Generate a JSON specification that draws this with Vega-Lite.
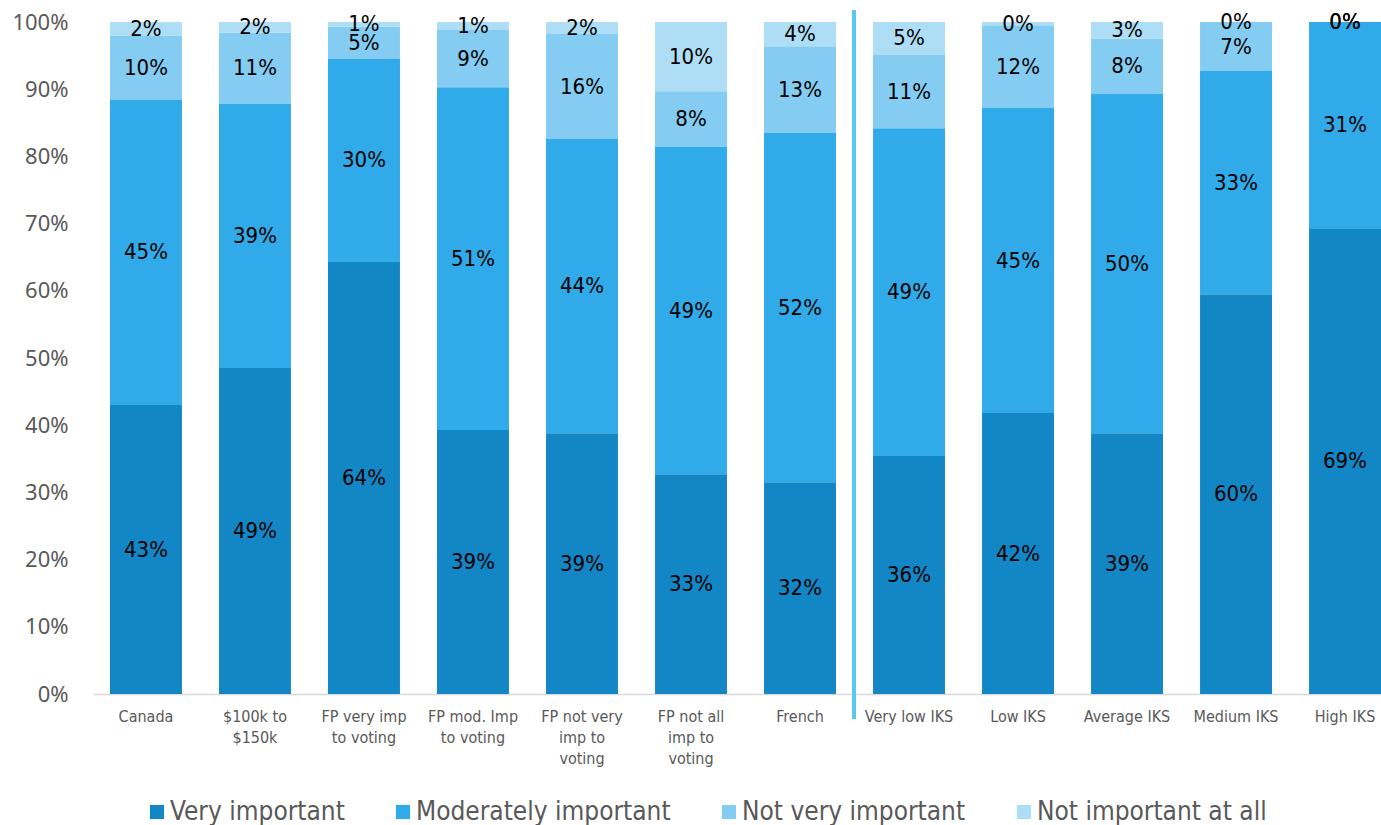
{
  "$schema": "https://vega.github.io/schema/vega-lite/v6.json",
  "width": 1288,
  "height": 672,
  "autosize": {"type": "none"},
  "padding": {"left": 93, "top": 22, "right": 0, "bottom": 131},
  "background": "white",
  "config": {"view": {"stroke": null}},
  "data": {
    "values": [
      {"g": "Canada", "seg": "Very important", "k": 1, "pct": 43.0, "label": "43%"},
      {"g": "Canada", "seg": "Moderately important", "k": 2, "pct": 45.4, "label": "45%"},
      {"g": "Canada", "seg": "Not very important", "k": 3, "pct": 9.6, "label": "10%"},
      {"g": "Canada", "seg": "Not important at all", "k": 4, "pct": 2.0, "label": "2%"},
      {"g": "$100k to $150k", "seg": "Very important", "k": 1, "pct": 48.5, "label": "49%"},
      {"g": "$100k to $150k", "seg": "Moderately important", "k": 2, "pct": 39.3, "label": "39%"},
      {"g": "$100k to $150k", "seg": "Not very important", "k": 3, "pct": 10.6, "label": "11%"},
      {"g": "$100k to $150k", "seg": "Not important at all", "k": 4, "pct": 1.6, "label": "2%"},
      {"g": "FP very imp to voting", "seg": "Very important", "k": 1, "pct": 64.3, "label": "64%"},
      {"g": "FP very imp to voting", "seg": "Moderately important", "k": 2, "pct": 30.2, "label": "30%"},
      {"g": "FP very imp to voting", "seg": "Not very important", "k": 3, "pct": 4.8, "label": "5%"},
      {"g": "FP very imp to voting", "seg": "Not important at all", "k": 4, "pct": 0.7, "label": "1%"},
      {"g": "FP mod. Imp to voting", "seg": "Very important", "k": 1, "pct": 39.3, "label": "39%"},
      {"g": "FP mod. Imp to voting", "seg": "Moderately important", "k": 2, "pct": 51.0, "label": "51%"},
      {"g": "FP mod. Imp to voting", "seg": "Not very important", "k": 3, "pct": 8.5, "label": "9%"},
      {"g": "FP mod. Imp to voting", "seg": "Not important at all", "k": 4, "pct": 1.2, "label": "1%"},
      {"g": "FP not very imp to voting", "seg": "Very important", "k": 1, "pct": 38.8, "label": "39%"},
      {"g": "FP not very imp to voting", "seg": "Moderately important", "k": 2, "pct": 43.8, "label": "44%"},
      {"g": "FP not very imp to voting", "seg": "Not very important", "k": 3, "pct": 15.6, "label": "16%"},
      {"g": "FP not very imp to voting", "seg": "Not important at all", "k": 4, "pct": 1.8, "label": "2%"},
      {"g": "FP not all imp to voting", "seg": "Very important", "k": 1, "pct": 32.7, "label": "33%"},
      {"g": "FP not all imp to voting", "seg": "Moderately important", "k": 2, "pct": 48.7, "label": "49%"},
      {"g": "FP not all imp to voting", "seg": "Not very important", "k": 3, "pct": 8.3, "label": "8%"},
      {"g": "FP not all imp to voting", "seg": "Not important at all", "k": 4, "pct": 10.3, "label": "10%"},
      {"g": "French", "seg": "Very important", "k": 1, "pct": 31.5, "label": "32%"},
      {"g": "French", "seg": "Moderately important", "k": 2, "pct": 52.0, "label": "52%"},
      {"g": "French", "seg": "Not very important", "k": 3, "pct": 12.9, "label": "13%"},
      {"g": "French", "seg": "Not important at all", "k": 4, "pct": 3.6, "label": "4%"},
      {"g": "Very low IKS", "seg": "Very important", "k": 1, "pct": 35.4, "label": "36%"},
      {"g": "Very low IKS", "seg": "Moderately important", "k": 2, "pct": 48.8, "label": "49%"},
      {"g": "Very low IKS", "seg": "Not very important", "k": 3, "pct": 10.9, "label": "11%"},
      {"g": "Very low IKS", "seg": "Not important at all", "k": 4, "pct": 4.9, "label": "5%"},
      {"g": "Low IKS", "seg": "Very important", "k": 1, "pct": 41.8, "label": "42%"},
      {"g": "Low IKS", "seg": "Moderately important", "k": 2, "pct": 45.4, "label": "45%"},
      {"g": "Low IKS", "seg": "Not very important", "k": 3, "pct": 12.3, "label": "12%"},
      {"g": "Low IKS", "seg": "Not important at all", "k": 4, "pct": 0.5, "label": "0%"},
      {"g": "Average IKS", "seg": "Very important", "k": 1, "pct": 38.8, "label": "39%"},
      {"g": "Average IKS", "seg": "Moderately important", "k": 2, "pct": 50.5, "label": "50%"},
      {"g": "Average IKS", "seg": "Not very important", "k": 3, "pct": 8.2, "label": "8%"},
      {"g": "Average IKS", "seg": "Not important at all", "k": 4, "pct": 2.5, "label": "3%"},
      {"g": "Medium IKS", "seg": "Very important", "k": 1, "pct": 59.5, "label": "60%"},
      {"g": "Medium IKS", "seg": "Moderately important", "k": 2, "pct": 33.2, "label": "33%"},
      {"g": "Medium IKS", "seg": "Not very important", "k": 3, "pct": 7.3, "label": "7%"},
      {"g": "Medium IKS", "seg": "Not important at all", "k": 4, "pct": 0.0, "label": "0%"},
      {"g": "High IKS", "seg": "Very important", "k": 1, "pct": 69.2, "label": "69%"},
      {"g": "High IKS", "seg": "Moderately important", "k": 2, "pct": 30.8, "label": "31%"},
      {"g": "High IKS", "seg": "Not very important", "k": 3, "pct": 0.0, "label": "0%"},
      {"g": "High IKS", "seg": "Not important at all", "k": 4, "pct": 0.0, "label": "0%"}
    ]
  },
  "encoding": {
    "x": {
      "field": "g",
      "type": "nominal",
      "scale": {
        "domain": ["Canada", "$100k to $150k", "FP very imp to voting", "FP mod. Imp to voting", "FP not very imp to voting", "FP not all imp to voting", "French", "Very low IKS", "Low IKS", "Average IKS", "Medium IKS", "High IKS"],
        "paddingInner": 0.34,
        "paddingOuter": 0.078,
        "align": 1
      },
      "axis": {
        "title": null,
        "labelAngle": 0,
        "ticks": false,
        "domainColor": "#d9d9d9",
        "domainWidth": 1.5,
        "labelFont": "DejaVu Sans Condensed",
        "labelFontSize": 16,
        "labelColor": "#595959",
        "labelPadding": 14,
        "labelBaseline": "top",
        "labelLineHeight": 21,
        "labelLimit": 200,
        "labelExpr": "({'$100k to $150k': ['$100k to', '$150k'], 'FP very imp to voting': ['FP very imp', 'to voting'], 'FP mod. Imp to voting': ['FP mod. Imp', 'to voting'], 'FP not very imp to voting': ['FP not very', 'imp to', 'voting'], 'FP not all imp to voting': ['FP not all', 'imp to', 'voting']})[datum.label] || datum.label"
      }
    }
  },
  "layer": [
    {
      "mark": {"type": "bar"},
      "encoding": {
        "y": {
          "field": "pct",
          "type": "quantitative",
          "stack": "normalize",
          "scale": {"domain": [0, 1]},
          "axis": {
            "title": null,
            "format": "%",
            "values": [0, 0.1, 0.2, 0.3, 0.4, 0.5, 0.6, 0.7, 0.8, 0.9, 1],
            "ticks": false,
            "domain": false,
            "grid": false,
            "labelFont": "Noto Sans",
            "labelFontSize": 22,
            "labelColor": "#595959",
            "labelPadding": 25
          }
        },
        "color": {
          "field": "seg",
          "type": "nominal",
          "scale": {
            "domain": ["Very important", "Moderately important", "Not very important", "Not important at all"],
            "range": ["#1386c5", "#30aae8", "#84ccf2", "#addef6"]
          },
          "legend": {
            "title": null,
            "orient": "none",
            "legendX": 51,
            "legendY": 777,
            "direction": "horizontal",
            "symbolType": "square",
            "symbolSize": 200,
            "symbolStrokeWidth": 0,
            "symbolOpacity": 1,
            "labelFont": "DejaVu Sans Condensed",
            "labelFontSize": 26,
            "labelColor": "#595959",
            "columnPadding": 45,
            "labelOffset": 0,
            "labelLimit": 400
          }
        },
        "order": {"field": "k", "type": "quantitative", "sort": "ascending"}
      }
    },
    {
      "mark": {"type": "text", "font": "DejaVu Sans Condensed", "fontSize": 22, "color": "black", "baseline": "middle"},
      "encoding": {
        "y": {"field": "pct", "type": "quantitative", "stack": "normalize", "bandPosition": 0.5},
        "detail": {"field": "seg"},
        "order": {"field": "k", "type": "quantitative", "sort": "ascending"},
        "text": {"field": "label"}
      }
    },
    {
      "mark": {"type": "rule", "color": "#5bc8ef", "strokeWidth": 2.5, "xOffset": -19},
      "encoding": {
        "x": {"datum": "Very low IKS", "bandPosition": 0},
        "y": {"datum": 1.018},
        "y2": {"datum": -0.036}
      }
    }
  ]
}
